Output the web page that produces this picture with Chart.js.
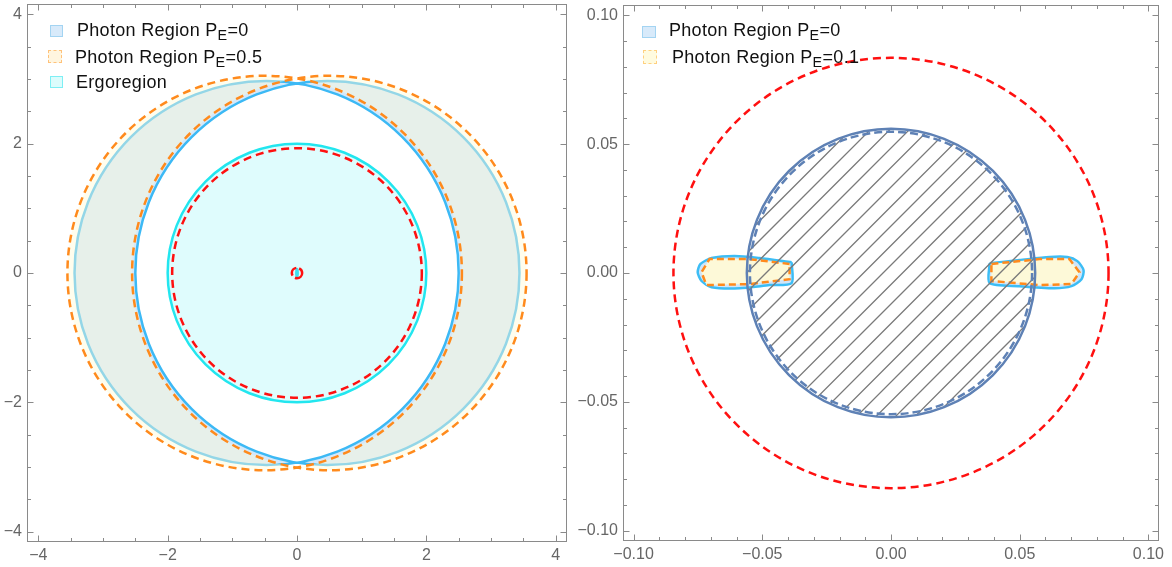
<!DOCTYPE html>
<html>
<head>
<meta charset="utf-8">
<script src="https://cdn.jsdelivr.net/npm/chart.js@4.4.1/dist/chart.umd.min.js"></script>
<style>
  body { margin: 0; background: #fff; width: 1172px; height: 567px; overflow: hidden; position: relative;
         font-family: "Liberation Sans", Arial, sans-serif; }
  .panel { position: absolute; top: 0; }
  .row { position: absolute; white-space: nowrap; font-size: 18px; line-height: 20px; color: #111; letter-spacing: 0.3px; }
  .sw { position: absolute; box-sizing: border-box; }
  sub { font-size: 0.8em; vertical-align: -0.3em; line-height: 0; }
</style>
</head>
<body>
<div class="panel" style="left:0"><canvas id="leftChart" width="572" height="567"></canvas></div>
<div class="panel" style="left:572px"><canvas id="rightChart" width="600" height="567"></canvas></div>

<!-- legends -->
<div class="sw" style="left:50px;top:25px;width:13px;height:12px;background:#d8eafa;border:1px solid #a3d4f2"></div>
<div class="row" style="left:77px;top:20px">Photon Region P<sub>E</sub>=0</div>
<div class="sw" style="left:48px;top:50px;width:14px;height:13px;background:#fff5df;border:1.5px dashed #ffc27a"></div>
<div class="row" style="left:75px;top:47px">Photon Region P<sub>E</sub>=0.5</div>
<div class="sw" style="left:50px;top:76px;width:13px;height:12px;background:#dcfcfc;border:1.5px solid #7eeff4"></div>
<div class="row" style="left:76px;top:72px">Ergoregion</div>

<div class="sw" style="left:642px;top:26px;width:14px;height:12px;background:#d8eafa;border:1px solid #a3d4f2"></div>
<div class="row" style="left:669px;top:20px">Photon Region P<sub>E</sub>=0</div>
<div class="sw" style="left:643px;top:50px;width:14px;height:14px;background:#fffbe0;border:1.5px dashed #ffd080"></div>
<div class="row" style="left:672px;top:47px">Photon Region P<sub>E</sub>=0.1</div>

<script>
// ---- left panel data ----
const leftTicks = [-4, -2, 0, 2, 4];
const leftTickLabels = ["\u22124", "\u22122", "0", "2", "4"];
const leftMinorTicks = [-3.5, -3, -2.5, -1.5, -1, -0.5, 0.5, 1, 1.5, 2.5, 3, 3.5];

// photon regions are the symmetric difference of two shifted discs
const photon0CentersX = [-0.47, 0.47];
const photon0Radius = 2.97;
const photon05CentersX = [-0.5, 0.5];
const photon05Radius = 3.05;
const ergoRadius = 2.0;
const horizonRadius = 1.93;
const innerRingRadius = 0.08;
const innerErgoRadii = [0.03, 0.08];

// ---- right panel data ----
const rightTicks = [-0.1, -0.05, 0, 0.05, 0.1];
const rightTickLabels = ["\u22120.10", "\u22120.05", "0.00", "0.05", "0.10"];
const rightMinorTicks = [-0.09, -0.08, -0.07, -0.06, -0.04, -0.03, -0.02, -0.01,
                         0.01, 0.02, 0.03, 0.04, 0.06, 0.07, 0.08, 0.09];

const redCircleRadii = [0.0845, 0.0835];
const solidDiskRadius = 0.056;
const dashedDiskRadius = 0.0548;

const blobLeftOuter = [[-0.0386, 0.0042], [-0.0511, 0.0058], [-0.0608, 0.0066], [-0.0697, 0.0058],
  [-0.0740, 0.0035], [-0.0751, 0.0003], [-0.0736, -0.0031], [-0.0697, -0.0055], [-0.0588, -0.0059],
  [-0.0472, -0.0047], [-0.0386, -0.0039], [-0.0386, 0.0042]];
const blobRightOuter = [[0.0383, 0.0038], [0.0499, 0.0050], [0.0616, 0.0062], [0.0685, 0.0062],
  [0.0724, 0.0046], [0.0748, 0.0011], [0.0740, -0.0024], [0.0701, -0.0051], [0.0635, -0.0059],
  [0.0499, -0.0051], [0.0383, -0.0039], [0.0383, 0.0038]];
const blobLeftInner = [[-0.0394, 0.0035], [-0.0550, 0.0054], [-0.0705, 0.0054], [-0.0736, 0.0003],
  [-0.0717, -0.0047], [-0.0550, -0.0043], [-0.0394, -0.0024], [-0.0394, 0.0035]];
const blobRightInner = [[0.0390, 0.0035], [0.0577, 0.0054], [0.0693, 0.0054], [0.0732, 0.0003],
  [0.0701, -0.0043], [0.0577, -0.0047], [0.0390, -0.0031], [0.0390, 0.0035]];

const toPts = arr => arr.map(p => ({ x: p[0], y: p[1] }));

function ellipsePath(ctx, xs, ys, cx, cy, rx, ry) {
  const px = xs.getPixelForValue(cx), py = ys.getPixelForValue(cy);
  const prx = Math.abs(xs.getPixelForValue(cx + rx) - px);
  const pry = Math.abs(ys.getPixelForValue(cy + ry) - py);
  ctx.moveTo(px + prx, py);
  ctx.ellipse(px, py, prx, pry, 0, 0, Math.PI * 2);
}

// Mathematica-style frame with inward ticks on all sides
function framePlugin(major, minor) {
  return {
    id: "frame",
    afterDraw(chart) {
      const { ctx, chartArea: a, scales: { x, y } } = chart;
      const L = Math.round(a.left) + 0.5, R = Math.round(a.right) - 0.5;
      const T = Math.round(a.top) + 0.5, B = Math.round(a.bottom) - 0.5;
      ctx.save();
      ctx.strokeStyle = "#8a8a8a";
      ctx.lineWidth = 1;
      ctx.strokeRect(L, T, R - L, B - T);
      ctx.beginPath();
      const mark = (vals, len) => {
        vals.forEach(v => {
          const px = Math.round(x.getPixelForValue(v)) + 0.5;
          ctx.moveTo(px, B); ctx.lineTo(px, B - len);
          ctx.moveTo(px, T); ctx.lineTo(px, T + len);
          const py = Math.round(y.getPixelForValue(v)) + 0.5;
          ctx.moveTo(L, py); ctx.lineTo(L + len, py);
          ctx.moveTo(R, py); ctx.lineTo(R - len, py);
        });
      };
      mark(major, 6);
      mark(minor, 3.5);
      ctx.stroke();
      ctx.restore();
    }
  };
}

function axisOpts(min, max, ticks, labels, pos, size) {
  return {
    type: "linear", position: pos, min: min, max: max,
    grid: { display: false, drawTicks: false },
    border: { display: false },
    afterBuildTicks: axis => { axis.ticks = ticks.map(v => ({ value: v })); },
    afterFit: axis => {
      if (pos === "left") axis.width = size; else axis.height = size;
      axis.paddingTop = 0; axis.paddingBottom = 0;
      axis.paddingLeft = 0; axis.paddingRight = 0;
    },
    ticks: {
      padding: pos === "left" ? 5 : 4,
      color: "#666",
      font: { family: "Liberation Sans", size: 16 },
      maxRotation: 0,
      autoSkip: false,
      callback: (v, i) => labels[i]
    }
  };
}

const commonOpts = {
  responsive: false,
  animation: false,
  events: [],
  plugins: { legend: { display: false }, tooltip: { enabled: false } }
};

// ---- left chart ----
const leftShapes = {
  id: "leftShapes",
  beforeDatasetsDraw(chart) {
    const { ctx, chartArea: a, scales: { x, y } } = chart;
    ctx.save();
    ctx.beginPath();
    ctx.rect(a.left, a.top, a.right - a.left, a.bottom - a.top);
    ctx.clip();

    // photon region P_E = 0
    ctx.beginPath();
    photon0CentersX.forEach(cx => ellipsePath(ctx, x, y, cx, 0, photon0Radius, photon0Radius));
    ctx.fillStyle = "#d4e8fa";
    ctx.fill("evenodd");
    ctx.strokeStyle = "#3cb9f5";
    ctx.lineWidth = 2.5;
    ctx.stroke();

    // photon region P_E = 0.5
    ctx.beginPath();
    photon05CentersX.forEach(cx => ellipsePath(ctx, x, y, cx, 0, photon05Radius, photon05Radius));
    ctx.fillStyle = "rgba(255,250,215,0.45)";
    ctx.fill("evenodd");
    ctx.strokeStyle = "#ff8a1c";
    ctx.setLineDash([8, 5]);
    ctx.stroke();
    ctx.setLineDash([]);

    // ergoregion
    ctx.beginPath();
    ellipsePath(ctx, x, y, 0, 0, ergoRadius, ergoRadius);
    ctx.fillStyle = "#dffcfd";
    ctx.fill();
    ctx.strokeStyle = "#22e6ef";
    ctx.stroke();
    ctx.beginPath();
    ellipsePath(ctx, x, y, 0, 0, innerErgoRadii[0], innerErgoRadii[1]);
    ctx.fillStyle = "#3fe0ef";
    ctx.fill();

    // horizons
    ctx.strokeStyle = "#ff1010";
    ctx.setLineDash([8, 5]);
    ctx.beginPath();
    ellipsePath(ctx, x, y, 0, 0, horizonRadius, horizonRadius);
    ctx.stroke();
    ctx.setLineDash([10, 3]);
    ctx.beginPath();
    ellipsePath(ctx, x, y, 0, 0, innerRingRadius, innerRingRadius);
    ctx.stroke();
    ctx.restore();
  }
};

new Chart(document.getElementById("leftChart"), {
  type: "scatter",
  data: { datasets: [] },
  options: {
    ...commonOpts,
    layout: { padding: { left: 0, top: 4, right: 5, bottom: 0 } },
    scales: {
      x: axisOpts(-4.175, 4.175, leftTicks, leftTickLabels, "bottom", 25),
      y: axisOpts(-4.16, 4.16, leftTicks, leftTickLabels, "left", 27)
    }
  },
  plugins: [leftShapes, framePlugin(leftTicks, leftMinorTicks)]
});

// ---- right chart ----
const rightShapes = {
  id: "rightShapes",
  afterDatasetsDraw(chart) {
    const { ctx, chartArea: a, scales: { x, y } } = chart;
    ctx.save();
    ctx.beginPath();
    ctx.rect(a.left, a.top, a.right - a.left, a.bottom - a.top);
    ctx.clip();

    // hatched disk
    ctx.save();
    ctx.beginPath();
    ellipsePath(ctx, x, y, 0, 0, solidDiskRadius, solidDiskRadius);
    ctx.clip();
    const cx = x.getPixelForValue(0), cy = y.getPixelForValue(0);
    ctx.strokeStyle = "#7a7a7a";
    ctx.lineWidth = 1.3;
    ctx.beginPath();
    for (let d = -320; d <= 320; d += 19.5) {
      ctx.moveTo(cx + d - 160, cy + 160);
      ctx.lineTo(cx + d + 160, cy - 160);
    }
    ctx.stroke();
    ctx.restore();

    ctx.strokeStyle = "#5e81b5";
    ctx.lineWidth = 2.5;
    ctx.beginPath();
    ellipsePath(ctx, x, y, 0, 0, solidDiskRadius, solidDiskRadius);
    ctx.stroke();
    ctx.setLineDash([8, 4]);
    ctx.beginPath();
    ellipsePath(ctx, x, y, 0, 0, dashedDiskRadius, dashedDiskRadius);
    ctx.stroke();

    ctx.strokeStyle = "#ff1010";
    ctx.setLineDash([8, 5]);
    ctx.beginPath();
    ellipsePath(ctx, x, y, 0, 0, redCircleRadii[0], redCircleRadii[1]);
    ctx.stroke();
    ctx.restore();
  }
};

const blueBlob = pts => ({
  data: toPts(pts), showLine: true, fill: "shape", tension: 0.25,
  backgroundColor: "#cfe5fa", borderColor: "#3cbdf5", borderWidth: 2.5,
  pointRadius: 0, order: 2
});
const yellowBlob = pts => ({
  data: toPts(pts), showLine: true, fill: "shape", tension: 0,
  backgroundColor: "rgba(255,250,214,0.95)", borderColor: "#ff8a1c", borderWidth: 2.5,
  borderDash: [7, 4], pointRadius: 0, order: 1
});

new Chart(document.getElementById("rightChart"), {
  type: "scatter",
  data: {
    datasets: [
      yellowBlob(blobLeftInner), yellowBlob(blobRightInner),
      blueBlob(blobLeftOuter), blueBlob(blobRightOuter)
    ]
  },
  options: {
    ...commonOpts,
    layout: { padding: { left: 0, top: 5, right: 13, bottom: 0 } },
    scales: {
      x: axisOpts(-0.1041, 0.1041, rightTicks, rightTickLabels, "bottom", 26),
      y: axisOpts(-0.104, 0.104, rightTicks, rightTickLabels, "left", 51)
    }
  },
  plugins: [rightShapes, framePlugin(rightTicks, rightMinorTicks)]
});
</script>
</body>
</html>
